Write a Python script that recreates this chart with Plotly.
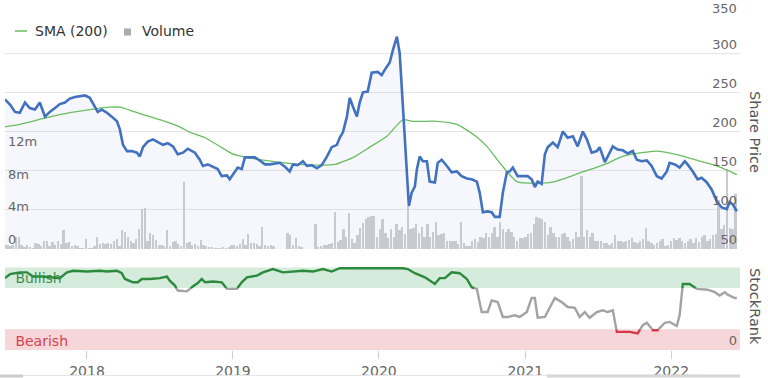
import pandas as pd
import plotly.graph_objects as go

# ---------------- data ----------------
price_dates = [
    "2017-06-10", "2017-06-23", "2017-07-05", "2017-07-17", "2017-07-30", "2017-08-11", "2017-08-24", "2017-09-05", "2017-09-18", "2017-09-30",
    "2017-10-13", "2017-10-25", "2017-11-07", "2017-11-19", "2017-12-02", "2017-12-14", "2017-12-27", "2018-01-08", "2018-01-21", "2018-01-28",
    "2018-02-07", "2018-02-20", "2018-03-04", "2018-03-17", "2018-03-24", "2018-04-01", "2018-04-11", "2018-04-23", "2018-05-06", "2018-05-13",
    "2018-05-21", "2018-06-02", "2018-06-15", "2018-06-27", "2018-07-10", "2018-07-22", "2018-08-04", "2018-08-16", "2018-08-29", "2018-09-10",
    "2018-09-28", "2018-10-10", "2018-10-18", "2018-10-30", "2018-11-12", "2018-11-24", "2018-12-04", "2018-12-17", "2018-12-24", "2019-01-06",
    "2019-01-13", "2019-01-23", "2019-01-31", "2019-02-12", "2019-02-25", "2019-03-09", "2019-03-22", "2019-04-03", "2019-04-16", "2019-04-28",
    "2019-05-11", "2019-05-23", "2019-05-31", "2019-06-12", "2019-06-25", "2019-07-05", "2019-07-17", "2019-07-30", "2019-08-11", "2019-08-24",
    "2019-09-05", "2019-09-18", "2019-09-25", "2019-10-03", "2019-10-13", "2019-10-20", "2019-10-28", "2019-11-07", "2019-11-14", "2019-11-22",
    "2019-12-04", "2019-12-14", "2019-12-29", "2020-01-08", "2020-01-16", "2020-01-28", "2020-02-05", "2020-02-15", "2020-02-22", "2020-03-01",
    "2020-03-11", "2020-03-16", "2020-03-23", "2020-03-31", "2020-04-05", "2020-04-12", "2020-04-20", "2020-04-30", "2020-05-07", "2020-05-20",
    "2020-05-27", "2020-06-06", "2020-06-19", "2020-07-01", "2020-07-14", "2020-07-26", "2020-08-08", "2020-08-20", "2020-09-02", "2020-09-09",
    "2020-09-17", "2020-09-29", "2020-10-09", "2020-10-17", "2020-10-29", "2020-11-06", "2020-11-16", "2020-11-23", "2020-12-01", "2020-12-13",
    "2020-12-26", "2021-01-07", "2021-01-17", "2021-01-25", "2021-02-01", "2021-02-11", "2021-02-19", "2021-02-26", "2021-03-11", "2021-03-16",
    "2021-03-23", "2021-04-05", "2021-04-17", "2021-04-30", "2021-05-12", "2021-05-25", "2021-06-04", "2021-06-16", "2021-06-29", "2021-07-06",
    "2021-07-19", "2021-07-26", "2021-08-08", "2021-08-20", "2021-09-02", "2021-09-14", "2021-09-27", "2021-10-07", "2021-10-19", "2021-11-01",
    "2021-11-13", "2021-11-26", "2021-12-08", "2021-12-21", "2021-12-28", "2022-01-10", "2022-01-22", "2022-02-04", "2022-02-11", "2022-02-24",
    "2022-03-08", "2022-03-18", "2022-03-31", "2022-04-12", "2022-04-25", "2022-05-07", "2022-05-20", "2022-05-27", "2022-06-04", "2022-06-14",
]
price_values = [
    241, 234, 225, 224, 237, 230, 228, 237, 219, 225,
    230, 235, 237, 242, 244, 245, 246, 243, 232, 225,
    228, 224, 219, 213, 203, 183, 175, 175, 173, 168,
    180, 187, 190, 187, 183, 185, 181, 171, 173, 178,
    173, 164, 156, 158, 155, 152, 143, 144, 139, 148,
    154, 152, 167, 167, 167, 163, 158, 158, 159, 160,
    155, 149, 158, 157, 162, 156, 157, 153, 157, 168,
    180, 183, 192, 199, 219, 243, 232, 219, 237, 250,
    251, 275, 276, 272, 279, 288, 304, 321, 300, 237,
    152, 105, 122, 130, 152, 168, 162, 162, 136, 135,
    160, 164, 156, 148, 149, 143, 140, 139, 136, 122,
    97, 98, 97, 91, 91, 122, 148, 149, 154, 143,
    143, 143, 139, 129, 136, 133, 171, 180, 186, 183,
    180, 200, 192, 194, 181, 200, 190, 173, 175, 180,
    161, 168, 181, 177, 176, 172, 175, 164, 162, 163,
    156, 143, 140, 149, 160, 158, 154, 162, 158, 149,
    139, 141, 135, 126, 111, 103, 101, 110, 107, 98,
]

sma_dates = [
    "2017-06-10", "2017-07-17", "2017-09-18", "2017-11-19", "2018-01-21", "2018-02-27", "2018-03-24", "2018-05-01", "2018-06-07", "2018-07-15",
    "2018-08-21", "2018-09-15", "2018-10-23", "2018-12-12", "2019-01-01", "2019-01-26", "2019-03-22", "2019-05-28", "2019-08-01", "2019-09-13",
    "2019-11-02", "2019-12-09", "2020-01-21", "2020-03-01", "2020-03-26", "2020-05-25", "2020-07-14", "2020-08-28", "2020-09-27", "2020-11-03",
    "2020-12-11", "2021-01-30", "2021-03-16", "2021-05-23", "2021-07-19", "2021-08-31", "2021-10-19", "2021-11-26", "2022-01-10", "2022-03-01",
    "2022-04-20", "2022-06-14",
]
sma_values = [
    206, 209, 217, 224, 229, 231, 231, 225, 219, 213,
    206, 199, 192, 177, 171, 168, 163, 159, 157, 158,
    168, 180, 194, 215, 213, 213, 209, 195, 181, 157,
    136, 134, 136, 148, 158, 168, 173, 175, 171, 164,
    157, 145,
]

# weekly volume (millions), first week starting 2017-06-10
volume_start = "2017-06-10"
volume_values = [
    0.6, 0.5, 0.4, 0.5, 1.5, 1.4, 0.5, 0.2, 0.5, 0.2,
    0.1, 0.7, 0.6, 0.4, 1.0, 1.0, 0.4, 0.8, 0.5, 1.0,
    0.6, 2.3, 0.7, 0.8, 0.4, 0.5, 0.4, 0.1, 0.1, 1.2,
    0.1, 0.1, 0.4, 1.5, 0.6, 0.7, 0.6, 0.7, 0.6, 1.0,
    1.2, 0.4, 2.3, 2.1, 1.5, 1.0, 0.7, 1.2, 2.4, 4.8,
    5.0, 1.0, 1.9, 1.7, 1.1, 0.5, 0.5, 0.4, 2.3, 0.4,
    0.8, 1.0, 0.6, 0.4, 8.1, 0.7, 0.8, 0.5, 0.6, 0.4,
    1.1, 0.5, 0.4, 0.2, 0.2, 0.1, 0.1, 0.1, 0.2, 0.1,
    0.2, 0.5, 0.5, 0.4, 0.6, 1.2, 0.5, 1.8, 0.7, 0.7,
    0.6, 0.4, 2.7, 0.5, 0.4, 0.5, 0.4, 0.0, 0.0, 0.0,
    0.0, 2.0, 1.7, 0.5, 1.3, 0.4, 0.2, 0.0, 0.0, 0.0,
    0.0, 3.0, 0.2, 0.4, 0.5, 0.5, 0.6, 0.7, 4.5, 0.8,
    1.1, 2.4, 1.5, 4.4, 1.2, 0.7, 1.7, 2.6, 3.2, 3.6,
    3.9, 4.0, 4.0, 1.5, 2.4, 3.6, 1.9, 1.3, 2.4, 1.5,
    3.0, 2.3, 2.7, 1.8, 5.2, 2.4, 2.5, 3.0, 1.9, 2.7,
    1.5, 3.0, 1.4, 2.1, 3.3, 1.7, 1.8, 1.9, 1.0, 1.0,
    1.0, 1.0, 0.6, 3.3, 0.7, 0.4, 0.4, 1.0, 1.2, 0.8,
    1.4, 1.3, 1.9, 1.5, 1.9, 2.7, 1.5, 3.3, 2.4, 2.1,
    2.4, 2.1, 1.5, 1.0, 1.3, 1.3, 1.5, 1.8, 1.9, 3.0,
    3.9, 3.7, 3.6, 3.3, 1.7, 2.7, 1.9, 1.5, 1.4, 1.8,
    2.0, 1.4, 1.0, 1.2, 2.1, 1.4, 8.8, 1.4, 2.3, 1.5,
    1.9, 1.0, 1.0, 1.0, 0.7, 0.7, 0.5, 0.7, 1.7, 1.0,
    1.0, 0.8, 1.0, 1.1, 1.3, 0.8, 0.7, 1.0, 1.2, 2.5,
    1.0, 0.7, 0.5, 0.7, 1.0, 1.2, 0.4, 0.5, 1.0, 1.3,
    1.1, 1.3, 1.0, 0.7, 1.0, 1.2, 0.7, 1.3, 0.8, 1.4,
    1.7, 1.0, 1.2, 1.7, 1.8, 6.0, 2.4, 2.9, 9.7, 2.6,
    2.4, 6.7,
]

rank_dates = [
    "2017-06-10", "2017-06-23", "2017-07-17", "2017-08-04", "2017-08-19", "2017-09-13", "2017-10-25", "2017-11-12", "2017-11-27", "2018-01-01",
    "2018-02-02", "2018-02-20", "2018-03-17", "2018-03-29", "2018-04-06", "2018-04-26", "2018-05-08", "2018-05-18", "2018-06-07", "2018-07-02",
    "2018-07-20", "2018-07-27", "2018-08-09", "2018-08-16", "2018-09-08", "2018-09-20", "2018-10-05", "2018-10-15", "2018-10-23", "2018-11-12",
    "2018-12-04", "2018-12-17", "2019-01-11", "2019-01-23", "2019-02-05", "2019-03-02", "2019-03-17", "2019-04-11", "2019-05-06", "2019-05-31",
    "2019-06-25", "2019-07-20", "2019-08-14", "2019-09-05", "2019-09-25", "2019-10-28", "2019-11-22", "2019-12-27", "2020-02-02", "2020-03-01",
    "2020-03-13", "2020-03-31", "2020-04-25", "2020-05-20", "2020-06-01", "2020-06-14", "2020-07-01", "2020-07-21", "2020-08-08", "2020-08-20",
    "2020-09-02", "2020-09-14", "2020-09-29", "2020-10-09", "2020-10-24", "2020-11-06", "2020-11-18", "2020-12-06", "2020-12-18", "2021-01-05",
    "2021-01-17", "2021-01-25", "2021-02-01", "2021-02-19", "2021-03-03", "2021-03-16", "2021-04-02", "2021-04-17", "2021-05-05", "2021-05-17",
    "2021-05-30", "2021-06-11", "2021-06-29", "2021-07-14", "2021-07-26", "2021-08-08", "2021-08-18", "2021-09-02", "2021-09-19", "2021-10-09",
    "2021-10-22", "2021-11-01", "2021-11-16", "2021-11-28", "2021-12-16", "2021-12-28", "2022-01-15", "2022-01-22", "2022-01-30", "2022-02-16",
    "2022-03-06", "2022-04-02", "2022-04-20", "2022-05-02", "2022-05-15", "2022-05-22", "2022-06-09", "2022-06-14",
]
rank_values = [
    87, 92, 94, 94, 89, 89, 87, 94, 96, 95,
    96, 95, 96, 93, 86, 82, 82, 86, 86, 87,
    89, 84, 78, 72, 71, 76, 81, 86, 82, 83,
    82, 74, 74, 82, 88, 90, 94, 98, 94, 95,
    96, 95, 98, 95, 99, 99, 99, 99, 99, 99,
    98, 93, 88, 80, 87, 87, 94, 93, 86, 76,
    74, 46, 46, 60, 58, 40, 40, 42, 40, 46,
    63, 63, 39, 40, 51, 63, 58, 52, 51, 40,
    46, 39, 46, 48, 46, 48, 22, 22, 22, 20,
    30, 33, 24, 24, 33, 34, 29, 42, 80, 80,
    74, 73, 70, 66, 70, 67, 63, 63,
]

year_tick_dates = ["2018-01-01", "2019-01-01", "2020-01-01", "2021-01-01", "2022-01-01"]
year_tick_labels = ["2018", "2019", "2020", "2021", "2022"]
price_ticks = [50, 100, 150, 200, 250, 300, 350]
volume_ticks = [0, 4, 8, 12]
volume_tick_labels = ["0", "4m", "8m", "12m"]
rank_bands = {"Bullish": (75, 100), "Bearish": (0, 25)}

# ---------------- layout geometry ----------------
W, H = 768, 378
ML, MR, MT, MB = 5, 28, 14, 28
PW = W - ML - MR
PH = H - MT - MB


def px_x(x):
    return (x - ML) / PW


def px_y(y):
    return (H - MB - y) / PH


X_RANGE = ["2017-06-10", "2022-06-22"]
PRICE_RANGE = [price_ticks[0], price_ticks[-1]]
top_domain = [px_y(249), 1.0]
rank_domain = [0.0, px_y(267)]

FONT = "DejaVu Sans"
BLUE = "#4271c0"
GREEN_SMA = "#68bd60"
VOL_GRAY = "#c8cad2"
R_GREEN = "#2b8a3c"
R_GRAY = "#a3a3a3"
R_RED = "#d6394a"

fig = go.Figure()

# price area (base layer)
fig.add_trace(go.Scatter(
    x=price_dates, y=price_values, xaxis="x", yaxis="y",
    mode="lines", line=dict(width=0, color=BLUE),
    fill="tozeroy", fillcolor="rgba(66,113,192,0.055)",
    hoverinfo="skip", showlegend=False))

# volume bars
vol_dates = pd.date_range(volume_start, periods=len(volume_values), freq="7D")
fig.add_trace(go.Bar(
    x=vol_dates, y=volume_values, xaxis="x", yaxis="y2",
    marker=dict(color=VOL_GRAY, line=dict(width=0)),
    width=4.6 * 86400000, name="Volume", showlegend=False))

# SMA and price line on top
fig.add_trace(go.Scatter(
    x=sma_dates, y=sma_values, xaxis="x", yaxis="y4",
    mode="lines", line=dict(width=1.3, color=GREEN_SMA, shape="spline", smoothing=0.6),
    name="SMA (200)", showlegend=False))
fig.add_trace(go.Scatter(
    x=price_dates, y=price_values, xaxis="x", yaxis="y4",
    mode="lines", line=dict(width=2.6, color=BLUE),
    name="Share Price", showlegend=False))

# StockRank zone colouring
rd = pd.to_datetime(rank_dates)
pts = [(rd[0], rank_values[0])]
for i in range(1, len(rd)):
    d0, v0 = rd[i - 1], rank_values[i - 1]
    d1, v1 = rd[i], rank_values[i]
    cross = []
    for t in (25, 75):
        if (v0 - t) * (v1 - t) < 0:
            cross.append(((t - v0) / (v1 - v0), t))
    for f, t in sorted(cross):
        pts.append((d0 + (d1 - d0) * f, t))
    pts.append((d1, v1))
px_dates = [p[0] for p in pts]

# band labels (under the line)
label_x = pd.Timestamp(X_RANGE[0]) + pd.Timedelta(days=26)
fig.add_trace(go.Scatter(
    x=[label_x, label_x], y=[85, 9.5], xaxis="x", yaxis="y3",
    mode="text", text=["Bullish", "Bearish"], textposition="middle right",
    textfont=dict(family=FONT, size=14, color=["#3f8e4d", "#d6404f"]),
    hoverinfo="skip", showlegend=False))

for lo, hi, col in [(0, 25, R_RED), (25, 75, R_GRAY), (75, 100, R_GREEN)]:
    ys = [v if lo - 1e-9 <= v <= hi + 1e-9 else None for _, v in pts]
    fig.add_trace(go.Scatter(
        x=px_dates, y=ys, xaxis="x", yaxis="y3", mode="lines",
        line=dict(width=2.4, color=col), connectgaps=False,
        hoverinfo="skip", showlegend=False))

tickfont = dict(family=FONT, size=13, color="#666666")

shapes = []
# rank bands
band_colors = {"Bullish": "#d5ebdc", "Bearish": "#f7d6d9"}
for name, (lo, hi) in rank_bands.items():
    shapes.append(dict(type="rect", xref="paper", yref="y3", x0=0, x1=1, y0=lo, y1=hi,
                       fillcolor=band_colors[name], line=dict(width=0), layer="below"))
# legend glyphs
shapes.append(dict(type="line", xref="paper", yref="paper",
                   x0=px_x(15), x1=px_x(27), y0=px_y(31), y1=px_y(31),
                   line=dict(color=GREEN_SMA, width=1.5)))
shapes.append(dict(type="rect", xref="paper", yref="paper",
                   x0=px_x(124), x1=px_x(131), y0=px_y(35.5), y1=px_y(28.5),
                   fillcolor="#a9abb3", line=dict(width=0)))
# navigator strip at the very bottom
shapes.append(dict(type="line", xref="paper", yref="paper",
                   x0=px_x(0), x1=px_x(740), y0=px_y(375.5), y1=px_y(375.5),
                   line=dict(color="#e6e6e6", width=1)))
shapes.append(dict(type="rect", xref="paper", yref="paper",
                   x0=px_x(0), x1=px_x(23), y0=px_y(377.5), y1=px_y(374.5),
                   fillcolor="#cccccc", line=dict(width=0)))
shapes.append(dict(type="rect", xref="paper", yref="paper",
                   x0=px_x(547), x1=px_x(740), y0=px_y(377.5), y1=px_y(374.5),
                   fillcolor="#d6d6d6", line=dict(width=0)))

annotations = [
    dict(text="SMA (200)", xref="paper", yref="paper", x=px_x(33), y=px_y(31),
         xanchor="left", yanchor="middle", showarrow=False,
         font=dict(family=FONT, size=14, color="#333333")),
    dict(text="Volume", xref="paper", yref="paper", x=px_x(140), y=px_y(31),
         xanchor="left", yanchor="middle", showarrow=False,
         font=dict(family=FONT, size=14, color="#333333")),
    dict(text="Share Price", xref="paper", yref="paper", x=px_x(755), y=px_y(132),
         xanchor="center", yanchor="middle", textangle=90, showarrow=False,
         font=dict(family=FONT, size=14.5, color="#555555")),
    dict(text="StockRank", xref="paper", yref="paper", x=px_x(755), y=px_y(306),
         xanchor="center", yanchor="middle", textangle=90, showarrow=False,
         font=dict(family=FONT, size=14.5, color="#555555")),
    # top price label, kept just inside the picture's top edge
    dict(text=str(price_ticks[-1]), xref="paper", yref="y", x=px_x(739), y=price_ticks[-1],
         xanchor="right", yanchor="bottom", showarrow=False, yshift=-4,
         font=tickfont),
]

fig.update_layout(
    width=W, height=H,
    margin=dict(l=ML, r=MR, t=MT, b=MB, pad=0, autoexpand=False),
    paper_bgcolor="white", plot_bgcolor="white",
    showlegend=False, bargap=0,
    font=dict(family=FONT, color="#666666"),
    xaxis=dict(range=X_RANGE, type="date", anchor="y3", automargin=False,
               tickvals=year_tick_dates, ticktext=year_tick_labels,
               tickfont=dict(family=FONT, size=14, color="#666666"),
               ticks="outside", ticklen=8, tickcolor="#d0d0d8", tickwidth=1,
               showgrid=False, zeroline=False, showline=False),
    yaxis=dict(domain=top_domain, range=PRICE_RANGE, side="right", automargin=False,
               tickvals=price_ticks, ticklabelposition="inside top",
               tickfont=tickfont, showgrid=True, gridcolor="#e6e6e6", gridwidth=1,
               zeroline=False, showline=False, ticks=""),
    yaxis2=dict(overlaying="y", side="left", range=[0, 28.5], automargin=False,
                tickvals=volume_ticks, ticktext=volume_tick_labels,
                ticklabelposition="inside top", tickfont=tickfont,
                showgrid=False, zeroline=False, showline=False, ticks=""),
    yaxis4=dict(overlaying="y", range=PRICE_RANGE, visible=False, automargin=False),
    yaxis3=dict(domain=rank_domain, range=[0, 100.5], side="right", automargin=False,
                tickvals=[0], ticklabelposition="inside top", tickfont=tickfont,
                showgrid=False, zeroline=False, showline=False, ticks=""),
    shapes=shapes, annotations=annotations,
)

fig.write_html(
    "out.html",
    config={"displayModeBar": False},
    post_script="document.body.style.margin='0';document.body.style.overflow='hidden';",
)
